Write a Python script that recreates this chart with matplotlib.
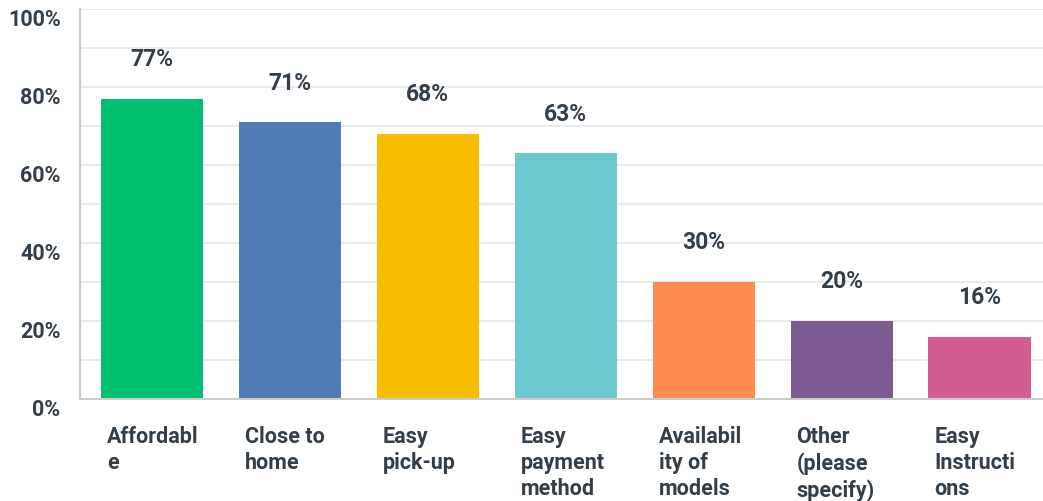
import matplotlib
matplotlib.use("Agg")
import matplotlib.pyplot as plt
import matplotlib.transforms as mtransforms

categories = ["Affordabl\ne", "Close to\nhome", "Easy\npick-up", "Easy\npayment\nmethod",
              "Availabil\nity of\nmodels", "Other\n(please\nspecify)", "Easy\nInstructi\nons"]
values = [77, 71, 68, 63, 30, 20, 16]
colors = ["#00bf6f", "#507cb6", "#f9be00", "#6bc8cd", "#ff8b4f", "#7d5a91", "#d25f90"]
yticks = [0, 20, 40, 60, 80, 100]
ytick_labels = ["0%", "20%", "40%", "60%", "80%", "100%"]

text_color = "#333e48"
font = "Roboto"

fig = plt.figure(figsize=(10.43, 5.02), dpi=100)
ax = fig.add_axes([80 / 1043, 1 - 400 / 502, 1 - 80 / 1043, 390 / 502])

x = list(range(len(values)))
width = 0.74
ax.bar(x, values, width=width, color=colors, zorder=3)
ax.set_xlim(-0.52, 6.46)
ax.set_ylim(0, 100)

# grid every 10%
for g in range(10, 101, 10):
    ax.axhline(g, color="#e6e6e6", lw=1.2, zorder=1)

for s in ["top", "right"]:
    ax.spines[s].set_visible(False)
ax.spines["left"].set_color("#cccccc")
ax.spines["left"].set_linewidth(1.5)
ax.spines["bottom"].set_color("#cccccc")
ax.spines["bottom"].set_linewidth(1.5)
ax.spines["bottom"].set_zorder(4)

ax.set_yticks(yticks)
ax.set_yticklabels(ytick_labels, fontsize=15.5, color=text_color, family=font, fontweight="bold")
ax.tick_params(axis="y", length=0, pad=14)
offset = mtransforms.ScaledTranslation(0, -8 / 100, fig.dpi_scale_trans)
for lbl in ax.get_yticklabels():
    lbl.set_transform(lbl.get_transform() + offset)

ax.set_xticks([])

for xi, v, cat in zip(x, values, categories):
    ax.annotate(f"{v}%", (xi, v), xytext=(0, 40), textcoords="offset pixels",
                ha="center", va="center", fontsize=16.5, color=text_color,
                family=font, fontweight="bold")
    ax.annotate(cat, (xi - width / 2, 0), xytext=(6, -26), textcoords="offset pixels",
                ha="left", va="top", fontsize=15.5, color=text_color,
                family=font, fontweight="bold", linespacing=1.25)

fig.savefig("out.png", dpi=100)
